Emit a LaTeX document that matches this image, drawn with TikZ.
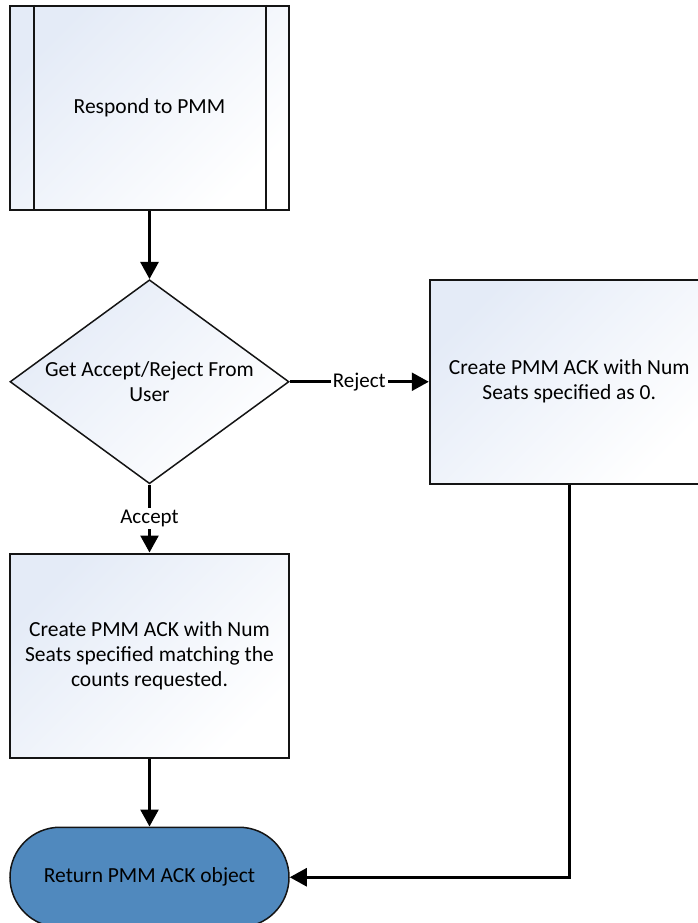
\documentclass[tikz,border=0pt]{standalone}
\usepackage{fontspec}
\setmainfont{Carlito}
\usetikzlibrary{shapes.geometric, arrows.meta, positioning, calc}
\definecolor{boxBlue}{RGB}{228, 235, 247}
\definecolor{termBlue}{RGB}{80, 137, 190}
\definecolor{lineDark}{RGB}{20, 20, 20}
\tikzset{
    % Base Block Style
    base/.style={
        rectangle,
        minimum width=279pt,
        minimum height=204pt,
        align=center,
        font=\fontsize{21.5}{25}\selectfont,
        draw=lineDark,
        line width=2pt
    },
    % Specific Role Styles
    process/.style={base, top color=boxBlue, bottom color=white, shading angle=45},
    stepSub/.style={process},
    stepDecide/.style={process, diamond, aspect=1.37, inner sep=0pt, line width=1.5pt},
    stepEnd/.style={base, rounded corners=50pt, minimum height=100pt, line width=1.5pt, fill=termBlue},
    % Arrow & Label Styles
    arrow/.style={-{Triangle[length=17pt, width=18pt]}, line width=2.6pt, draw=black},
    edgeLabel/.style={font=\fontsize{21}{25}\selectfont, fill=white, inner sep=2pt}
}

\begin{document}
\begin{tikzpicture}[
    x=1pt, y=1pt,
    node distance=68pt and 139pt
]
    \clip (0,0) rectangle (698,-923);

    % --- LEFT COLUMN ---

    % 1. Subprocess (Top)
    \node (respond) [stepSub] at (149.5,-108) {Respond to PMM};
    \draw [line width=2pt, draw=lineDark] ([xshift=24.5pt]respond.north west) -- ([xshift=24.5pt]respond.south west);
    \draw [line width=2pt, draw=lineDark] ([xshift=-24.5pt]respond.north east) -- ([xshift=-24.5pt]respond.south east);

    % 2. Decision
    \node (decide) [stepDecide, below=of respond] {
        Get Accept/Reject From \\
        User
    };

    % 3. Accept branch
    \node (acceptbox) [process, below=of decide] {
        Create PMM ACK with Num \\
        Seats specified matching the \\
        counts requested.
    };

    % 4. Terminator
    \node (returnnode) [stepEnd, below=of acceptbox] {Return PMM ACK object};

    % --- RIGHT COLUMN (Reject branch) ---
    \node (rejectbox) [process, right=of decide] {
        Create PMM ACK with Num \\
        Seats specified as 0.
    };

    % --- Arrows ---
    \draw [arrow] (respond) -- (decide);
    \draw [arrow] (decide) -- node[edgeLabel] (rejectlbl) {Reject} (rejectbox);
    \draw [arrow] (decide) -- node[edgeLabel] (acceptlbl) {Accept} (acceptbox);
    \draw [arrow] (acceptbox) -- (returnnode);
    \draw [arrow] (rejectbox.south) |- (returnnode.east);

\end{tikzpicture}
\end{document}
